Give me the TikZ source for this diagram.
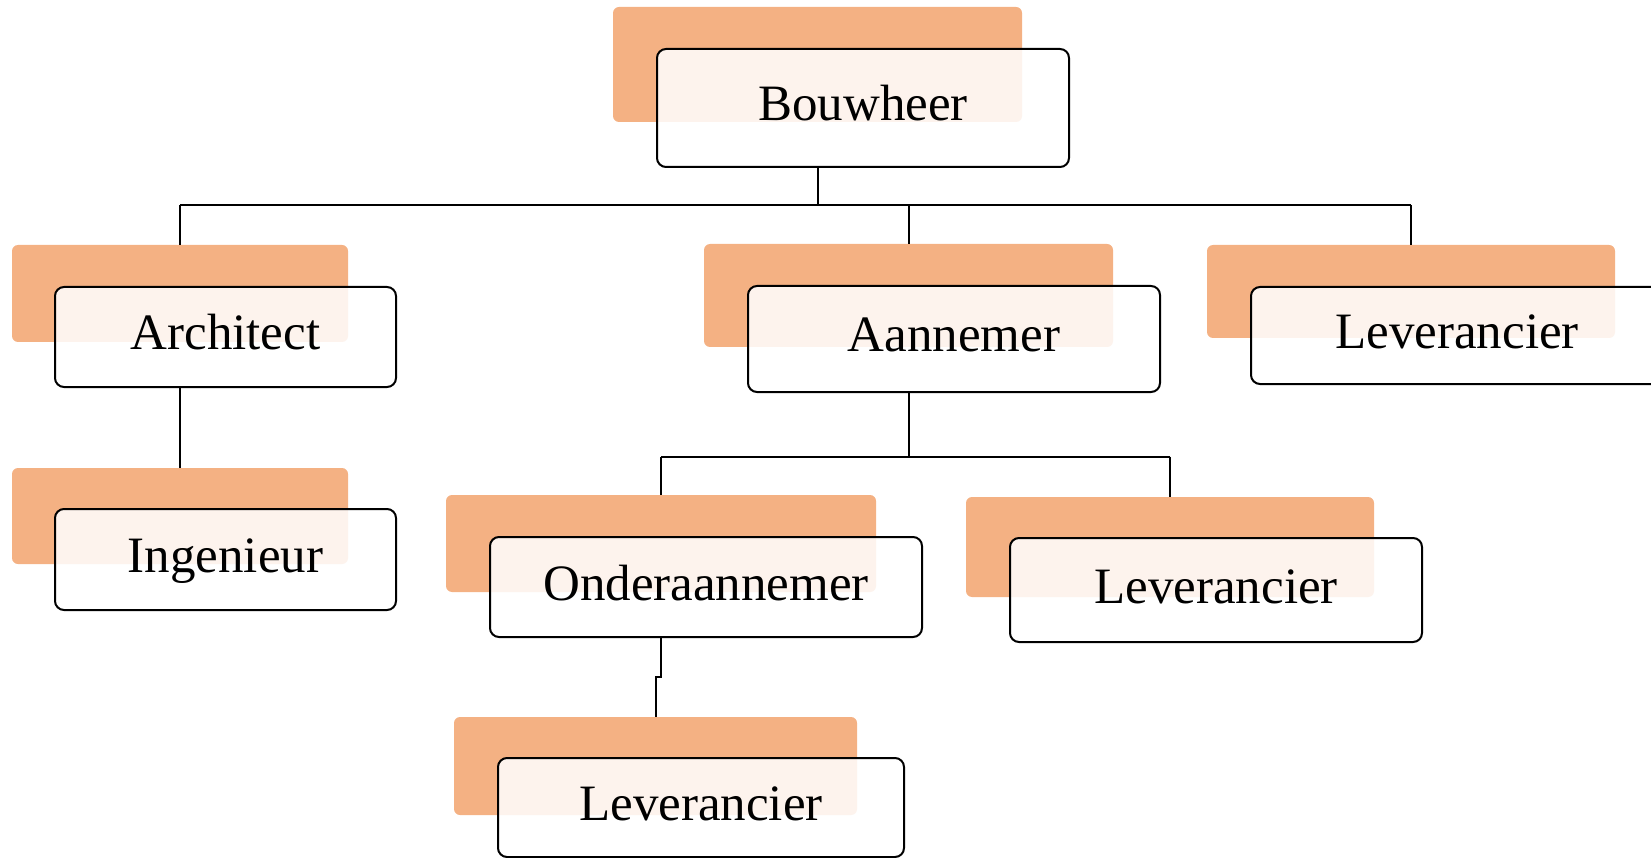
\documentclass[tikz,border=0pt]{standalone}
\usepackage{fontspec}
\setmainfont{Liberation Serif}
\definecolor{boxorange}{HTML}{F4B183}
\tikzset{
  back/.style={fill=boxorange, rounded corners=6pt, inner sep=0pt, outer sep=0pt},
  front/.style={draw=black, line width=2pt, fill=white, fill opacity=0.86, text opacity=1,
    rounded corners=9pt, inner sep=0pt, outer sep=0pt,
    font=\fontsize{51}{60}\selectfont, text height=31pt, text depth=5pt},
  link/.style={draw=black, line width=2pt}
}
\begin{document}
\begin{tikzpicture}[x=1pt,y=-1pt]
\useasboundingbox (0,0) rectangle (1651,858);
% Bouwheer
\node[back, minimum width=409pt, minimum height=115pt] (bo) at (817.5,64.5) {};
\node[front, minimum width=412pt, minimum height=118pt] (bw) at (863,108) {Bouwheer};
% Architect
\node[back, minimum width=336pt, minimum height=97pt] (ao) at (180,293.5) {};
\node[front, minimum width=341pt, minimum height=100pt] (aw) at (225.5,337) {Architect};
% Ingenieur
\node[back, minimum width=336pt, minimum height=96pt] (io) at (180,516) {};
\node[front, minimum width=341pt, minimum height=101pt] (iw) at (225.5,559.5) {Ingenieur};
% Aannemer
\node[back, minimum width=409pt, minimum height=103pt] (no) at (908.5,295.5) {};
\node[front, minimum width=412pt, minimum height=106pt] (nw) at (954,339) {Aannemer};
% Leverancier right
\node[back, minimum width=408pt, minimum height=93pt] (ro) at (1411,291.5) {};
\node[front, minimum width=412pt, minimum height=97pt] (rw) at (1457,335.5) {Leverancier};
% Onderaannemer
\node[back, minimum width=430pt, minimum height=97pt] (oo) at (661,543.5) {};
\node[front, minimum width=432pt, minimum height=100pt] (ow) at (706,587) {Onderaannemer};
% Leverancier middle
\node[back, minimum width=408pt, minimum height=100pt] (mo) at (1170,547) {};
\node[front, minimum width=412pt, minimum height=104pt] (mw) at (1216,590) {Leverancier};
% Leverancier bottom
\node[back, minimum width=403pt, minimum height=98pt] (lo) at (655.5,766) {};
\node[front, minimum width=406pt, minimum height=99pt] (lw) at (701,807.5) {Leverancier};
% connectors
\coordinate (busa) at (0,205);
\coordinate (busb) at (0,456.5);
\coordinate (kink) at (0,677);
\draw[link] (bo.north |- bw.south) -- (bo.north |- busa);
\draw[link] (ao.north |- busa) -- (ro.north |- busa);
\draw[link] (ao.north |- busa) -- (ao.north);
\draw[link] (no.north |- busa) -- (no.north);
\draw[link] (ro.north |- busa) -- (ro.north);
\draw[link] (ao.north |- aw.south) -- (io.north);
\draw[link] (no.north |- nw.south) -- (no.north |- busb);
\draw[link] (oo.north |- busb) -- (mo.north |- busb);
\draw[link] (oo.north |- busb) -- (oo.north);
\draw[link] (mo.north |- busb) -- (mo.north);
\draw[link] (oo.north |- ow.south) -- (oo.north |- kink) -- (lo.north |- kink) -- (lo.north);
\end{tikzpicture}
\end{document}
